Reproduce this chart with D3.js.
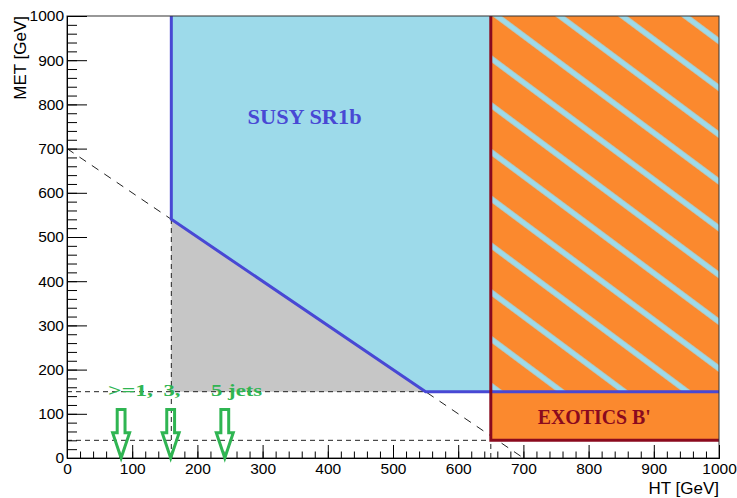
<!DOCTYPE html>
<html><head><meta charset="utf-8">
<script src="https://cdn.jsdelivr.net/npm/d3@7"></script>
<style>
html,body{margin:0;padding:0;background:#fff;}
svg{display:block;}
</style></head>
<body>
<svg id="chart" width="737" height="498"></svg>
<script>
// ---- data ----
const xDomain = [0, 1000];
const yDomain = [0, 1000];
const xMajorTicks = [0,100,200,300,400,500,600,700,800,900,1000];
const yMajorTicks = [0,100,200,300,400,500,600,700,800,900,1000];
const xMinorTicks = d3.range(0, 1001, 20);
const yMinorTicks = d3.range(0, 1001, 20);

const susyRegion = [[160,1000],[160,540],[550,150],[650,150],[650,1000]];
const susyHatchRegion = [[650,150],[1000,150],[1000,1000],[650,1000]];
const greyRegion = [[160,540],[160,150],[550,150]];
const exoticsRegion = [[650,40],[1000,40],[1000,1000],[650,1000]];
const susyBorder = [[160,1000],[160,540],[550,150],[1000,150]];
const exoticsBorder = [[650,1000],[650,40],[1000,40]];
const diagonalCut = [[0,700],[700,0]];
const dashedCuts = [
  [[0,150],[550,150]],
  [[0,40],[650,40]],
  [[160,0],[160,540]],
  [[650,0],[650,40]]
];
const jetArrowX = [83, 159, 242];
const arrowTop = 110, arrowNeck = 57, arrowTip = 0;
const arrowShaftHalf = 6, arrowHeadHalf = 13;
const jetLabels = [">=1,", "3,", "5 jets"];
const jetLabelX = [63, 148, 221];
const regionLabels = ["SUSY SR1b", "EXOTICS B'"];
const xTitle = "HT [GeV]";
const yTitle = "MET [GeV]";

// ---- layout ----
const W = 737, H = 498;
const m = {left: 67, top: 16, right: 18, bottom: 40};
const svg = d3.select("#chart");
const x = d3.scaleLinear().domain(xDomain).range([m.left, W - m.right]);
const y = d3.scaleLinear().domain(yDomain).range([H - m.bottom, m.top]);
const line = d3.line().x(d => x(d[0])).y(d => y(d[1]));
const poly = pts => line(pts) + "Z";

const COLORS = {
  lightblue: "#9ddaea", grey: "#c6c6c6", orange: "#fb892e",
  blue: "#4848d4", red: "#8a0a1e", green: "#2fb552", dash: "#222"
};

// hatch pattern
const defs = svg.append("defs");
const ang = 36.7, period = 37.5, hw = 5.5;
const pat = defs.append("pattern").attr("id","hatch")
  .attr("patternUnits","userSpaceOnUse")
  .attr("width", 200).attr("height", period)
  .attr("patternTransform", `rotate(${ang})`);
pat.append("rect").attr("x",0).attr("y",0).attr("width",200).attr("height",period).attr("fill",COLORS.orange);
pat.append("rect").attr("x",0).attr("y",15.8 - hw/2).attr("width",200).attr("height",hw).attr("fill",COLORS.lightblue);

// diagonal dashed cut (underneath)
svg.append("path").attr("d", line(diagonalCut))
  .attr("fill","none").attr("stroke",COLORS.dash).attr("stroke-width",1)
  .attr("stroke-dasharray","8,7");

// fills
svg.append("path").attr("d", poly(greyRegion)).attr("fill", COLORS.grey);
svg.append("path").attr("d", poly(susyRegion)).attr("fill", COLORS.lightblue);
svg.append("path").attr("d", poly(exoticsRegion)).attr("fill", COLORS.orange);
svg.append("path").attr("d", poly(susyHatchRegion)).attr("fill", "url(#hatch)");

// dashed cuts
dashedCuts.forEach(seg => {
  svg.append("path").attr("d", line(seg))
    .attr("fill","none").attr("stroke",COLORS.dash).attr("stroke-width",1)
    .attr("stroke-dasharray","5,4");
});

// borders
svg.append("path").attr("d", line(susyBorder)).attr("fill","none")
  .attr("stroke", COLORS.blue).attr("stroke-width", 3);
svg.append("path").attr("d", line(exoticsBorder)).attr("fill","none")
  .attr("stroke", COLORS.red).attr("stroke-width", 3);

// frame
svg.append("rect").attr("x", x(0)).attr("y", y(1000))
  .attr("width", x(1000)-x(0)).attr("height", y(0)-y(1000))
  .attr("fill","none").attr("stroke","#333").attr("stroke-width",1);

// axes
const axisStyle = g => {
  g.select(".domain").attr("stroke","#000");
  g.selectAll(".tick line").attr("stroke","#000");
  g.selectAll("text").attr("font-family","'Liberation Sans', Arial, sans-serif")
    .attr("font-size", 15.5).attr("fill","#000");
};
svg.append("g").attr("transform",`translate(0,${y(0)})`)
  .call(d3.axisBottom(x).tickValues(xMinorTicks).tickSize(-6.5).tickFormat(""))
  .call(axisStyle);
svg.append("g").attr("transform",`translate(0,${y(0)})`)
  .call(d3.axisBottom(x).tickValues(xMajorTicks).tickSize(-13).tickPadding(5).tickFormat(d3.format("d")))
  .call(axisStyle);
svg.append("g").attr("transform",`translate(${x(0)},0)`)
  .call(d3.axisLeft(y).tickValues(yMinorTicks).tickSize(-10).tickFormat(""))
  .call(axisStyle);
svg.append("g").attr("transform",`translate(${x(0)},0)`)
  .call(d3.axisLeft(y).tickValues(yMajorTicks).tickSize(-20).tickPadding(3).tickFormat(d3.format("d")))
  .call(axisStyle);

// axis titles
svg.append("text").attr("x", x(1000)).attr("y", 494)
  .attr("text-anchor","end").attr("font-family","'Liberation Sans', Arial, sans-serif")
  .attr("font-size",17).text(xTitle);
svg.append("text").attr("transform",`translate(26,${y(1000)}) rotate(-90)`)
  .attr("text-anchor","end").attr("font-family","'Liberation Sans', Arial, sans-serif")
  .attr("font-size",17).text(yTitle);

// region labels
svg.append("text").attr("x", x(277)).attr("y", y(755))
  .attr("font-family","'Liberation Serif', 'Times New Roman', serif").attr("font-weight","bold")
  .attr("font-size",20).attr("fill", COLORS.blue)
  .attr("textLength",114).attr("lengthAdjust","spacingAndGlyphs").text(regionLabels[0]);
svg.append("text").attr("x", x(722)).attr("y", y(78))
  .attr("font-family","'Liberation Serif', 'Times New Roman', serif").attr("font-weight","bold")
  .attr("font-size",20).attr("fill", COLORS.red)
  .attr("textLength",113).attr("lengthAdjust","spacingAndGlyphs").text(regionLabels[1]);

// jet labels
const jetLabelW = [45, 17, 51];
jetLabels.forEach((t,i) => {
  svg.append("text").attr("x", x(jetLabelX[i])).attr("y", y(140))
    .attr("font-family","'Liberation Serif', 'Times New Roman', serif").attr("font-weight","bold")
    .attr("font-size",17).attr("fill", COLORS.green)
    .attr("textLength", jetLabelW[i]).attr("lengthAdjust","spacingAndGlyphs").text(t);
});

// arrows
jetArrowX.forEach(cx => {
  const pts = [
    [cx - arrowShaftHalf, arrowTop], [cx + arrowShaftHalf, arrowTop],
    [cx + arrowShaftHalf, arrowNeck], [cx + arrowHeadHalf, arrowNeck],
    [cx, arrowTip],
    [cx - arrowHeadHalf, arrowNeck], [cx - arrowShaftHalf, arrowNeck]
  ];
  svg.append("path").attr("d", poly(pts)).attr("fill","none")
    .attr("stroke", COLORS.green).attr("stroke-width", 3).attr("stroke-linejoin","miter");
});
</script>
</body></html>
